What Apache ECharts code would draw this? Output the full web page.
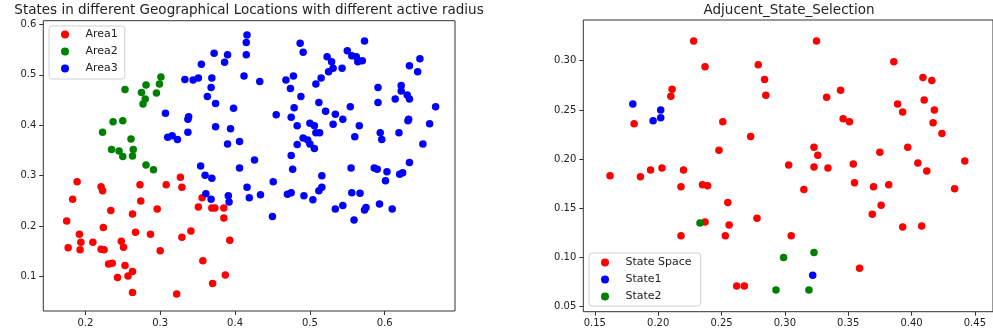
<!DOCTYPE html>
<html>
<head>
<meta charset="utf-8">
<script src="https://cdn.jsdelivr.net/npm/echarts@6/dist/echarts.min.js"></script>
<style>
  html, body { margin: 0; padding: 0; background: #fff; }
  #main { width: 993px; height: 335px; }
</style>
</head>
<body>
<div id="main"></div>
<script>
// left panel: states by area
const area1 = [
  [0.189,0.288],[0.183,0.253],[0.221,0.278],[0.223,0.270],[0.175,0.210],[0.192,0.184],[0.194,0.168],
  [0.177,0.157],[0.193,0.153],[0.210,0.168],[0.221,0.154],[0.225,0.153],[0.234,0.231],[0.224,0.197],
  [0.231,0.125],[0.236,0.126],[0.243,0.098],[0.248,0.170],[0.251,0.158],[0.253,0.122],[0.257,0.101],
  [0.263,0.110],[0.263,0.068],[0.263,0.224],[0.267,0.188],[0.273,0.282],[0.274,0.250],[0.287,0.184],
  [0.296,0.234],[0.300,0.151],[0.308,0.282],[0.327,0.297],[0.329,0.277],[0.329,0.178],[0.341,0.190],
  [0.322,0.065],[0.351,0.238],[0.356,0.256],[0.357,0.131],[0.369,0.236],[0.373,0.236],[0.385,0.236],
  [0.385,0.216],[0.393,0.172],[0.370,0.086],[0.387,0.103]
];
const area2 = [
  [0.253,0.471],[0.275,0.465],[0.281,0.480],[0.301,0.496],[0.299,0.482],[0.295,0.464],[0.280,0.452],
  [0.277,0.442],[0.223,0.386],[0.237,0.407],[0.250,0.409],[0.261,0.373],[0.235,0.352],[0.245,0.349],
  [0.250,0.338],[0.264,0.352],[0.263,0.339],[0.281,0.321],[0.291,0.312]
];
const area3 = [
  [0.416,0.579],[0.415,0.564],[0.415,0.540],[0.412,0.498],[0.372,0.543],[0.390,0.540],[0.386,0.525],
  [0.355,0.521],[0.333,0.491],[0.344,0.490],[0.351,0.494],[0.369,0.494],[0.368,0.475],[0.363,0.457],
  [0.374,0.443],[0.398,0.434],[0.307,0.424],[0.338,0.417],[0.337,0.412],[0.374,0.397],[0.394,0.393],
  [0.310,0.376],[0.316,0.379],[0.323,0.372],[0.337,0.386],[0.390,0.363],[0.406,0.368],[0.354,0.319],
  [0.406,0.315],[0.360,0.301],[0.369,0.295],[0.361,0.264],[0.368,0.253],[0.416,0.277],[0.419,0.256],
  [0.391,0.260],[0.392,0.248],
  [0.433,0.487],[0.487,0.563],[0.491,0.545],[0.523,0.536],[0.529,0.526],[0.531,0.513],[0.525,0.506],
  [0.543,0.513],[0.550,0.548],[0.556,0.538],[0.562,0.536],[0.564,0.526],[0.570,0.528],[0.573,0.567],
  [0.515,0.494],[0.508,0.482],[0.478,0.498],[0.468,0.490],[0.474,0.473],[0.488,0.457],[0.479,0.435],
  [0.455,0.421],[0.475,0.416],[0.483,0.399],[0.512,0.445],[0.521,0.428],[0.534,0.422],[0.531,0.402],
  [0.544,0.412],[0.554,0.437],[0.500,0.404],[0.506,0.399],[0.508,0.385],[0.513,0.385],[0.491,0.375],
  [0.497,0.371],[0.500,0.363],[0.506,0.354],[0.483,0.362],[0.475,0.340],[0.426,0.331],[0.566,0.399],
  [0.560,0.377],[0.591,0.475],[0.591,0.445],[0.622,0.479],[0.622,0.468],[0.630,0.460],[0.633,0.452],
  [0.614,0.452],[0.633,0.518],[0.644,0.506],[0.647,0.532],[0.668,0.437],[0.632,0.412],[0.631,0.409],
  [0.660,0.403],[0.594,0.385],[0.596,0.372],[0.619,0.385],[0.651,0.363],[0.633,0.326],
  [0.477,0.313],[0.555,0.315],[0.586,0.315],[0.590,0.313],[0.603,0.308],[0.601,0.290],[0.620,0.303],
  [0.624,0.306],[0.434,0.262],[0.451,0.288],[0.450,0.219],[0.470,0.263],[0.475,0.266],[0.492,0.260],
  [0.504,0.252],[0.516,0.300],[0.512,0.270],[0.516,0.277],[0.534,0.234],[0.544,0.241],[0.556,0.266],
  [0.567,0.265],[0.559,0.212],[0.573,0.232],[0.575,0.237],[0.593,0.244],[0.610,0.234]
];

// right panel: adjacent state selection
const stateSpace = [
  [0.228,0.320],[0.237,0.294],[0.279,0.296],[0.284,0.281],[0.285,0.265],[0.211,0.271],[0.210,0.264],
  [0.181,0.236],[0.251,0.238],[0.273,0.223],[0.248,0.209],
  [0.162,0.183],[0.186,0.182],[0.194,0.189],[0.203,0.191],[0.220,0.189],[0.218,0.172],[0.235,0.174],
  [0.239,0.173],[0.255,0.156],[0.237,0.136],[0.256,0.133],[0.278,0.140],[0.218,0.122],[0.253,0.122],
  [0.262,0.071],[0.268,0.071],
  [0.325,0.320],[0.386,0.299],[0.409,0.283],[0.416,0.280],[0.344,0.270],[0.333,0.263],[0.389,0.256],
  [0.393,0.248],[0.410,0.260],[0.418,0.250],[0.417,0.237],[0.424,0.226],[0.346,0.241],[0.351,0.238],
  [0.323,0.212],[0.326,0.204],[0.375,0.207],[0.397,0.212],[0.442,0.198],[0.303,0.194],[0.323,0.192],
  [0.334,0.191],[0.354,0.195],[0.405,0.196],[0.412,0.188],
  [0.315,0.169],[0.355,0.176],[0.370,0.172],[0.382,0.174],[0.434,0.170],[0.376,0.153],[0.369,0.144],
  [0.393,0.131],[0.408,0.132],[0.305,0.122],[0.359,0.089]
];
const state1 = [[0.180,0.256],[0.196,0.239],[0.202,0.242],[0.202,0.250],[0.322,0.082]];
const state2 = [[0.233,0.135],[0.299,0.100],[0.323,0.105],[0.293,0.067],[0.319,0.067]];

const leftXTicks = [0.2, 0.3, 0.4, 0.5, 0.6];
const leftYTicks = [0.1, 0.2, 0.3, 0.4, 0.5, 0.6];
const rightXTicks = [0.15, 0.20, 0.25, 0.30, 0.35, 0.40, 0.45];
const rightYTicks = [0.05, 0.10, 0.15, 0.20, 0.25, 0.30];

const FONT = 'DejaVu Sans';
const chart = echarts.init(document.getElementById('main'), null, { renderer: 'canvas' });

function axis(ticks, digits, min, max, gridIndex) {
  return {
    type: 'value', gridIndex: gridIndex, min: min, max: max,
    axisLine: { show: false },
    splitLine: { show: false },
    axisTick: { show: true, length: 4, customValues: ticks, lineStyle: { color: '#333', width: 1 } },
    axisLabel: {
      customValues: ticks, margin: 7, color: '#222', fontSize: 10, fontFamily: FONT,
      formatter: v => v.toFixed(digits)
    }
  };
}

function dots(name, data, color, idx) {
  return {
    name: name, type: 'scatter', data: data, xAxisIndex: idx, yAxisIndex: idx,
    symbolSize: 7.5, itemStyle: { color: color, opacity: 1 }
  };
}

const legendBase = {
  orient: 'vertical', icon: 'circle', itemWidth: 31, itemHeight: 8, itemGap: 4,
  borderColor: '#d0d0d0', borderWidth: 1, borderRadius: 3, backgroundColor: '#fff',
  textStyle: { color: '#222', fontSize: 11, fontFamily: FONT, lineHeight: 13 }
};

chart.setOption({
  animation: false,
  title: [
    { text: 'States in different Geographical Locations with different active radius',
      left: 249, top: 3, textAlign: 'center', padding: 0,
      textStyle: { color: '#222', fontSize: 13.5, fontWeight: 'normal', fontFamily: FONT } },
    { text: 'Adjucent_State_Selection',
      left: 789, top: 3, textAlign: 'center', padding: 0,
      textStyle: { color: '#222', fontSize: 13.5, fontWeight: 'normal', fontFamily: FONT } }
  ],
  legend: [
    Object.assign({}, legendBase, { data: ['Area1', 'Area2', 'Area3'], left: 49, top: 26, padding: [2, 7, 4, 12] }),
    Object.assign({}, legendBase, { data: ['State Space', 'State1', 'State2'], left: 589, top: 253, padding: [3, 9, 3, 12] })
  ],
  grid: [
    { left: 43.3, top: 20.7, width: 411.7, height: 290.3, show: true, borderColor: '#333', borderWidth: 1 },
    { left: 583.3, top: 20, width: 414, height: 291.7, show: true, borderColor: '#333', borderWidth: 1 }
  ],
  xAxis: [
    axis(leftXTicks, 1, 0.1438, 0.6939, 0),
    axis(rightXTicks, 2, 0.1409, 0.4643, 1)
  ],
  yAxis: [
    axis(leftYTicks, 1, 0.0315, 0.6075, 0),
    axis(rightYTicks, 2, 0.0449, 0.3414, 1)
  ],
  series: [
    dots('Area1', area1, '#ff0000', 0),
    dots('Area2', area2, '#008000', 0),
    dots('Area3', area3, '#0000ff', 0),
    dots('State Space', stateSpace, '#ff0000', 1),
    dots('State1', state1, '#0000ff', 1),
    dots('State2', state2, '#008000', 1)
  ]
});
</script>
</body>
</html>
